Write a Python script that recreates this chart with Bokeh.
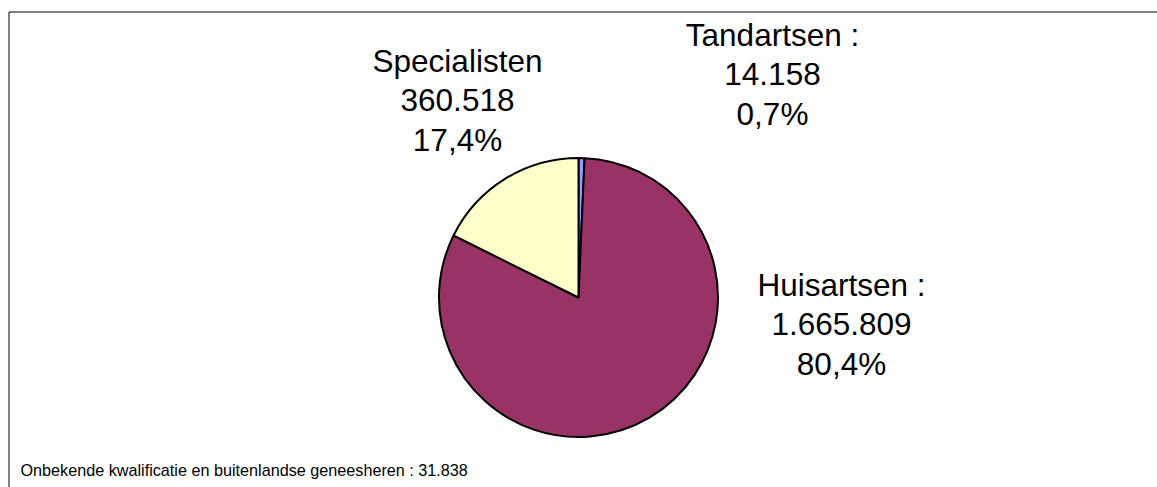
import math
from bokeh.plotting import figure
from bokeh.models import ColumnDataSource, Range1d
from bokeh.core.properties import value
from bokeh.embed import file_html
from bokeh.resources import INLINE

# ---- data ----
categories = ["Tandartsen", "Huisartsen", "Specialisten"]
label_names = ["Tandartsen :", "Huisartsen :", "Specialisten"]
counts = [14158, 1665809, 360518]
colors = ["#9999FF", "#993366", "#FFFFCC"]
unknown_label = "Onbekende kwalificatie en buitenlandse geneesheren"
unknown_count = 31838

# label anchor positions (pixel coords: centre x, first line y)
label_x = [772, 841, 457]
label_y = [34, 284, 60]
line_gap = 39.5

W, H = 1157, 487
p = figure(width=W, height=H, output_backend="svg", toolbar_location=None,
           x_range=Range1d(0, W), y_range=Range1d(0, H),
           min_border=0, background_fill_color="white",
           border_fill_color="white", outline_line_color=None)
p.axis.visible = False
p.grid.visible = False


def Y(img_y):
    return H - img_y


def fmt(n):
    return f"{n:,}".replace(",", ".")


total_pie = sum(counts)
grand_total = total_pie + unknown_count

starts, ends = [], []
cum = 0.0
for c in counts:
    a0 = math.pi / 2 - cum / total_pie * 2 * math.pi
    cum += c
    a1 = math.pi / 2 - cum / total_pie * 2 * math.pi
    starts.append(a0)
    ends.append(a1)

src = ColumnDataSource(dict(cat=categories, start=starts, end=ends, color=colors))
p.wedge(x=578, y=Y(297), radius=139.5, start_angle="start", end_angle="end",
        direction="clock", fill_color="color", line_color="black", line_width=2,
        source=src)

# labels
tx, ty, tt = [], [], []
for name, c, lx, ly in zip(label_names, counts, label_x, label_y):
    pct = f"{c / grand_total * 100:.1f}".replace(".", ",") + "%"
    for i, line in enumerate([name, fmt(c), pct]):
        tx.append(lx)
        ty.append(Y(ly + i * line_gap))
        tt.append(line)
p.text(x="x", y="y", text="t", source=ColumnDataSource(dict(x=tx, y=ty, t=tt)),
       text_align="center", text_baseline="alphabetic",
       text_font=value("Liberation Sans"), text_font_size="31.5px", text_color="black")

p.text(x=[20], y=[Y(469)], text=[f"{unknown_label} : {fmt(unknown_count)}"],
       text_align="left", text_baseline="alphabetic",
       text_font=value("Liberation Sans"), text_font_size="16.2px", text_color="black")

# chart frame (top and left edges visible)
p.segment(x0=[8.5, 8.5], y0=[Y(11.5), Y(11.5)], x1=[W, 8.5], y1=[Y(11.5), 0],
          line_color="black", line_width=1)

open("out.html", "w").write(file_html(p, INLINE))
